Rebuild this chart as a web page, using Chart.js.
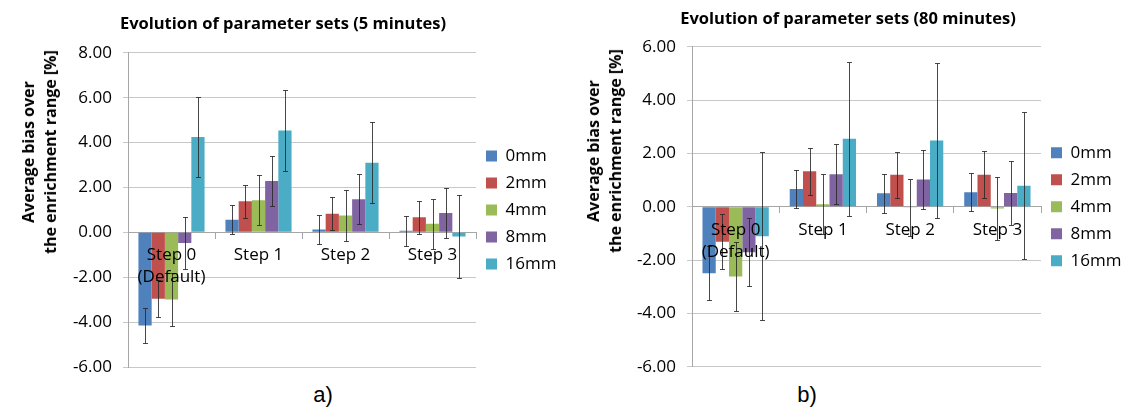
<!DOCTYPE html>
<html>
<head>
<meta charset="utf-8">
<script src="https://cdn.jsdelivr.net/npm/chart.js@4/dist/chart.umd.min.js"></script>
<style>
html,body{margin:0;padding:0;background:#fff;width:1121px;height:414px;overflow:hidden;font-family:'Open Sans',sans-serif;}
.wrap{position:absolute;top:0;height:380px;}
#wa{left:0;width:566px;}
#wb{left:575px;width:546px;}
.ytitle{position:absolute;transform:translate(-50%,-50%) rotate(-90deg);font:bold 16px/22px 'Open Sans',sans-serif;text-align:center;white-space:nowrap;color:#000;}
.cap{position:absolute;transform:translate(-50%,-50%);font:22px 'Liberation Sans',Arial,sans-serif;color:#000;}
</style>
</head>
<body>
<div class="wrap" id="wa"><canvas id="ca" width="566" height="380"></canvas></div>
<div class="wrap" id="wb"><canvas id="cb" width="546" height="380"></canvas></div>
<div class="ytitle" style="left:39px;top:152px;">Average bias over<br>the enrichment range [%]</div>
<div class="ytitle" style="left:604px;top:151px;">Average bias over<br>the enrichment range [%]</div>
<div class="cap" style="left:323px;top:395px;">a)</div>
<div class="cap" style="left:807px;top:395px;">b)</div>
<script>
// ---- data ----
const categories = [['Step 0', '(Default)'], 'Step 1', 'Step 2', 'Step 3'];
const seriesNames = ['0mm', '2mm', '4mm', '8mm', '16mm'];
const seriesColors = ['#4F81BD', '#C0504D', '#9BBB59', '#8064A2', '#4BACC6'];

// 5 minutes (chart a)
const a_0mm  = [-4.15, 0.56, 0.13, 0.07];
const a_2mm  = [-2.96, 1.38, 0.83, 0.67];
const a_4mm  = [-2.99, 1.43, 0.75, 0.38];
const a_8mm  = [-0.47, 2.29, 1.48, 0.86];
const a_16mm = [4.25, 4.54, 3.10, -0.18];
const a_err0mm  = [0.79, 0.64, 0.65, 0.66];
const a_err2mm  = [0.83, 0.72, 0.73, 0.73];
const a_err4mm  = [1.18, 1.12, 1.12, 1.12];
const a_err8mm  = [1.16, 1.13, 1.11, 1.12];
const a_err16mm = [1.80, 1.80, 1.80, 1.85];

// 80 minutes (chart b)
const b_0mm  = [-2.50, 0.66, 0.50, 0.54];
const b_2mm  = [-1.31, 1.33, 1.20, 1.20];
const b_4mm  = [-2.62, 0.09, -0.03, -0.07];
const b_8mm  = [-1.71, 1.22, 1.02, 0.51];
const b_16mm = [-1.11, 2.55, 2.48, 0.79];
const b_err0mm  = [1.01, 0.72, 0.72, 0.71];
const b_err2mm  = [1.03, 0.88, 0.86, 0.89];
const b_err4mm  = [1.30, 1.12, 1.08, 1.18];
const b_err8mm  = [1.28, 1.12, 1.11, 1.20];
const b_err16mm = [3.15, 2.88, 2.91, 2.76];

const a_yMin = -6, a_yMax = 8;
const b_yMin = -6, b_yMax = 6;
const yStep = 2;

Chart.defaults.font.family = "'Open Sans', sans-serif";
Chart.defaults.color = '#000';

function errorBarPlugin(errs) {
  return {
    id: 'errorBars',
    afterDatasetsDraw(chart) {
      const ctx = chart.ctx;
      const ys = chart.scales.y;
      ctx.save();
      ctx.strokeStyle = 'rgba(40,40,40,0.85)';
      ctx.lineWidth = 1;
      chart.data.datasets.forEach((ds, di) => {
        const meta = chart.getDatasetMeta(di);
        if (meta.hidden) return;
        meta.data.forEach((bar, i) => {
          const v = ds.data[i], e = errs[di][i];
          const x = Math.round(bar.x) + 0.5;
          const yt = Math.round(ys.getPixelForValue(v + e)) + 0.5;
          const yb = Math.round(ys.getPixelForValue(v - e)) + 0.5;
          const cap = 2.5;
          ctx.beginPath();
          ctx.moveTo(x, yt); ctx.lineTo(x, yb);
          ctx.moveTo(x - cap, yt); ctx.lineTo(x + cap, yt);
          ctx.moveTo(x - cap, yb); ctx.lineTo(x + cap, yb);
          ctx.stroke();
        });
      });
      ctx.restore();
    }
  };
}

function makeChart(id, title, means, errs, yMin, yMax, lay) {
  return new Chart(document.getElementById(id), {
    type: 'bar',
    data: {
      labels: categories,
      datasets: seriesNames.map((n, i) => ({
        label: n,
        data: means[i],
        backgroundColor: seriesColors[i],
        borderWidth: 0,
        categoryPercentage: 0.76,
        barPercentage: 1.0
      }))
    },
    options: {
      responsive: false,
      animation: false,
      layout: { padding: { top: 0, left: 0, right: 0, bottom: lay.padBottom } },
      plugins: {
        title: {
          display: true, text: title, color: '#000',
          font: { size: 16.5, weight: 'bold' },
          padding: { top: lay.titleTop, bottom: lay.titleBottom }
        },
        legend: {
          position: 'right', align: 'center', fullSize: false,
          maxWidth: lay.legendMax,
          labels: { boxWidth: 11, boxHeight: 11, padding: 10, color: '#000', font: { size: 17 } }
        },
        tooltip: { enabled: false }
      },
      scales: {
        x: {
          position: { y: 0 },
          grid: { display: true, drawOnChartArea: false, drawTicks: true, tickLength: 6, offset: true, color: '#a6a6a6' },
          border: { display: true, color: '#a6a6a6' },
          ticks: { z: 1, padding: 6, color: '#000', maxRotation: 0, autoSkip: false, font: { size: 17, lineHeight: 1.3 } },
          afterFit(s) { s.height = 0; s.paddingLeft = 0; s.paddingRight = 0; }
        },
        y: {
          min: yMin, max: yMax,
          ticks: { stepSize: yStep, padding: 11, color: '#000', font: { size: 17 }, callback: v => Number(v).toFixed(2) },
          grid: { color: '#c8c8c8', tickLength: 5, drawTicks: true },
          border: { display: true, color: '#a6a6a6' },
          afterFit(s) { s.width = lay.yWidth; s.paddingTop = 0; s.paddingBottom = 0; }
        }
      }
    },
    plugins: [errorBarPlugin(errs)]
  });
}

makeChart('ca', 'Evolution of parameter sets (5 minutes)',
  [a_0mm, a_2mm, a_4mm, a_8mm, a_16mm],
  [a_err0mm, a_err2mm, a_err4mm, a_err8mm, a_err16mm],
  a_yMin, a_yMax,
  { padBottom: 13, titleTop: 14, titleBottom: 19, yWidth: 128, legendMax: 90 });

makeChart('cb', 'Evolution of parameter sets (80 minutes)',
  [b_0mm, b_2mm, b_4mm, b_8mm, b_16mm],
  [b_err0mm, b_err2mm, b_err4mm, b_err8mm, b_err16mm],
  b_yMin, b_yMax,
  { padBottom: 13.3, titleTop: 9, titleBottom: 17.9, yWidth: 117, legendMax: 80 });
</script>
</body>
</html>
